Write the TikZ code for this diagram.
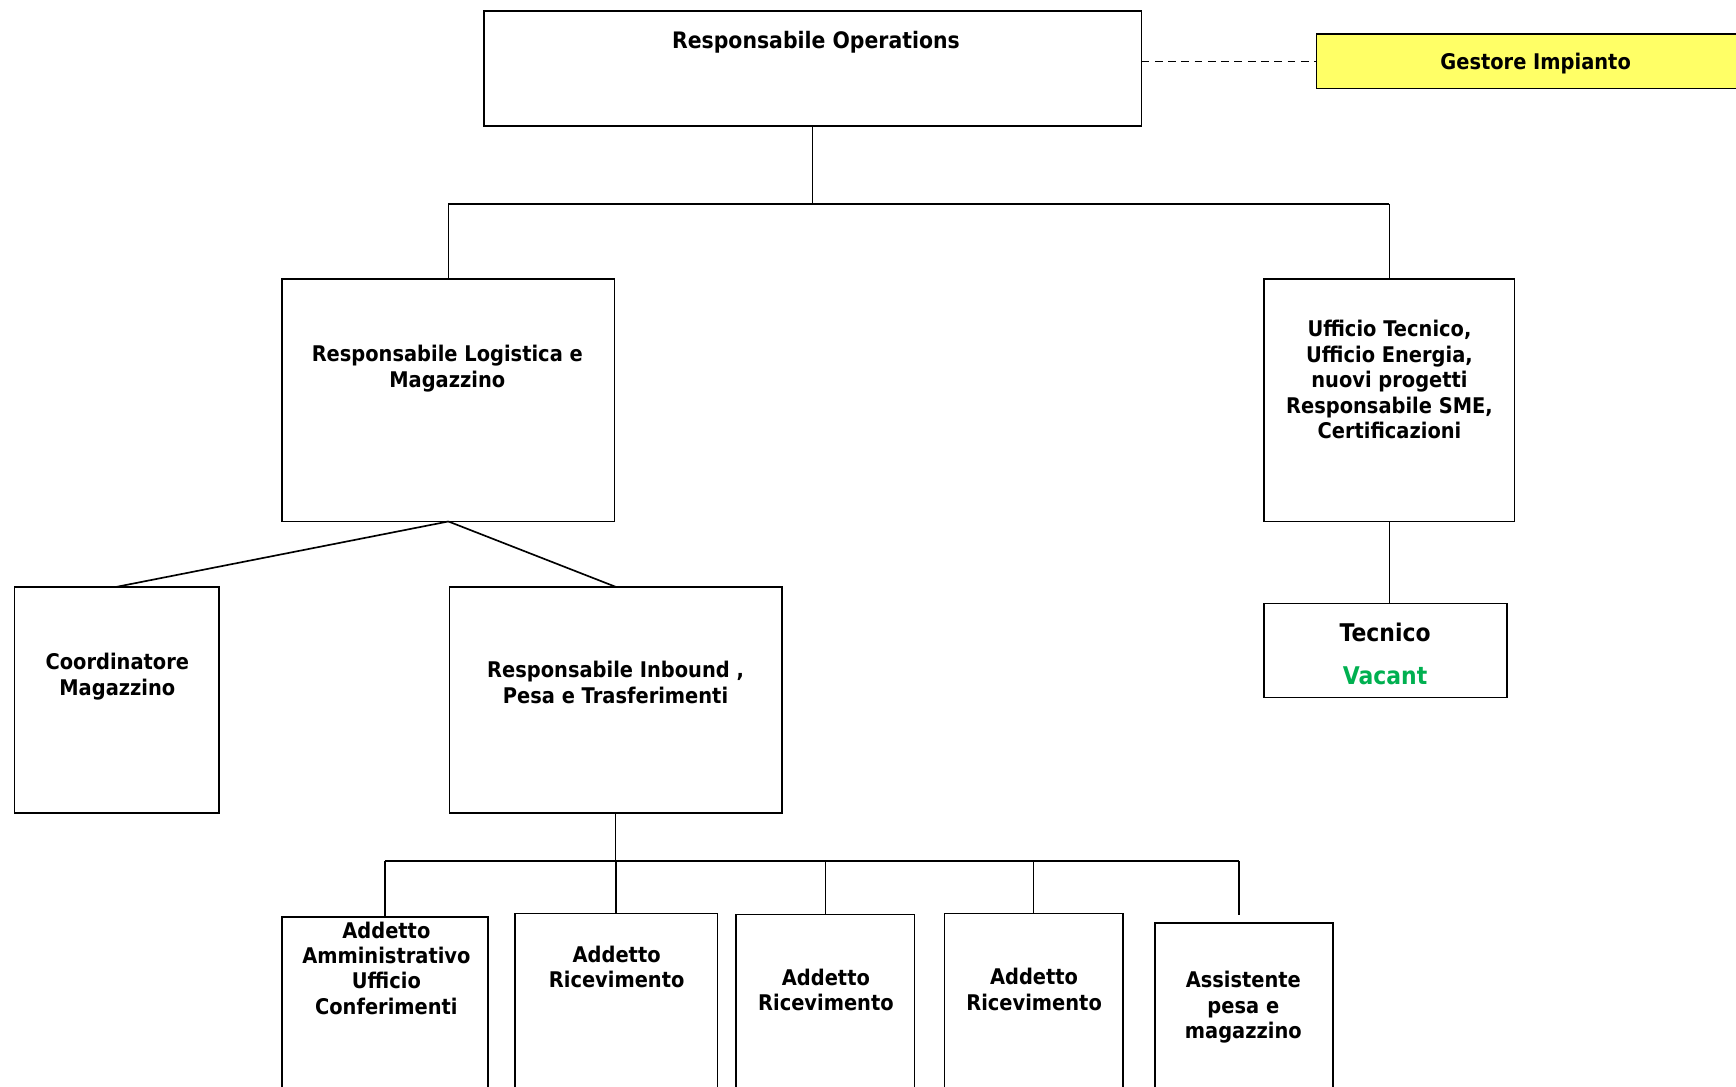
\documentclass[tikz,border=0pt]{standalone}
\usepackage{fontspec}
\setmainfont{DejaVu Sans}[FakeStretch=0.9]
\definecolor{gy}{HTML}{FFFF66}
\definecolor{vgreen}{HTML}{00B050}
\tikzset{
  box/.style={draw, line width=1.6pt, inner sep=0pt, outer sep=0pt, anchor=north west},
  txt/.style={font=\bfseries\fontsize{19.5}{23}\selectfont, align=center, inner sep=0pt},
  bigtxt/.style={font=\bfseries\fontsize{22}{26}\selectfont, align=center, inner sep=0pt},
  conn/.style={line width=1.5pt},
  dconn/.style={line width=1.4pt, dash pattern=on 7pt off 5pt}
}
\begin{document}
\begin{tikzpicture}[x=1pt,y=-1pt]
\clip (0,0) rectangle (1568,981);
% boxes
\node[box, minimum width=594pt, minimum height=104pt] (ops) at (437,10) {};
\node[box, fill=gy, minimum width=400pt, minimum height=49pt] (gest) at (1189,31) {};
\node[box, minimum width=300pt, minimum height=219pt] (logi) at (255,252) {};
\node[box, minimum width=226pt, minimum height=219pt] (uff) at (1142,252) {};
\node[box, minimum width=219pt, minimum height=85pt] (tec) at (1142,545) {};
\node[box, minimum width=185pt, minimum height=204pt] (coord) at (13,530) {};
\node[box, minimum width=300pt, minimum height=204pt] (inb) at (406,530) {};
\node[box, minimum width=186pt, minimum height=175pt] (amm) at (255,828) {};
\node[box, minimum width=183pt, minimum height=175pt] (ric1) at (465,825) {};
\node[box, minimum width=161pt, minimum height=175pt] (ric2) at (665,826) {};
\node[box, minimum width=161pt, minimum height=175pt] (ric3) at (853,825) {};
\node[box, minimum width=161pt, minimum height=175pt] (ass) at (1043,834) {};
% texts
\node[txt, font=\bfseries\fontsize{20.5}{23}\selectfont] (opsT) at (737,38) {Responsabile Operations};
\node[txt] (gestT) at (1387,57) {Gestore Impianto};
\node[txt] (logiT) at (404,333) {Responsabile Logistica e\\Magazzino};
\node[txt] (uffT) at (1255,343) {Ufficio Tecnico,\\Ufficio Energia,\\nuovi progetti\\Responsabile SME,\\Certificazioni};
\node[bigtxt] (tecT) at (1251,571) {Tecnico};
\node[bigtxt, text=vgreen] (vacT) at (1251,610) {Vacant};
\node[txt] (coordT) at (106,611) {Coordinatore\\Magazzino};
\node[txt] (inbT) at (556,616.5) {Responsabile Inbound ,\\Pesa e Trasferimenti};
\node[txt] (ammT) at (349,874.5) {Addetto\\Amministrativo\\Ufficio\\Conferimenti};
\node[txt] (ric1T) at (557,873.5) {Addetto\\Ricevimento};
\node[txt] (ric2T) at (746,894) {Addetto\\Ricevimento};
\node[txt] (ric3T) at (934,893.5) {Addetto\\Ricevimento};
\node[txt] (assT) at (1123,910) {Assistente\\pesa e\\magazzino};
% connectors
\coordinate (b1L) at (405,184);
\coordinate (b1R) at (1255,184);
\draw[conn] (ops.south) -- (ops.south |- b1L);
\draw[conn] (b1L) -- (b1R);
\draw[conn] (b1L) -- (logi.north);
\draw[conn] (b1R) -- (uff.north);
\draw[dconn] (ops.east |- gest.west) -- (gest.west);
\draw[conn] (uff.south) -- (uff.south |- tec.north);
\draw[conn] (logi.south) -- (coord.north);
\draw[conn] (logi.south) -- (inb.north);
\coordinate (b2L) at (348,777.5);
\coordinate (b2R) at (1119,777.5);
\coordinate (assTop) at (1119,826);
\draw[conn] (inb.south) -- (inb.south |- b2L);
\draw[conn] (b2L) -- (b2R);
\draw[conn] (b2L) -- (amm.north);
\draw[conn] (ric1.north |- b2L) -- (ric1.north);
\draw[conn] (ric2.north |- b2L) -- (ric2.north);
\draw[conn] (ric3.north |- b2L) -- (ric3.north);
\draw[conn] (b2R) -- (assTop);
\end{tikzpicture}
\end{document}
